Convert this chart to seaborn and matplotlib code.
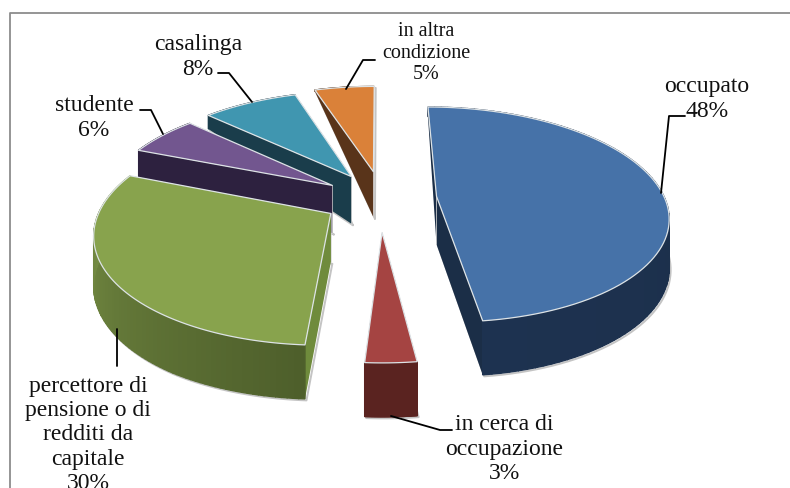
import numpy as np
import matplotlib
matplotlib.use("Agg")
import matplotlib.pyplot as plt
from matplotlib.patches import Polygon
import seaborn as sns

# dati
categories = ["occupato", "in cerca di\noccupazione", "percettore di\npensione o di\nredditi da\ncapitale",
              "studente", "casalinga", "in altra\ncondizione"]
values = [48, 3, 30, 6, 8, 5]

# aspetto delle fette, stesso ordine dei dati
explode = [0.26, 0.08, 0.20, 0.21, 0.19, 0.16]
nudge_x = [1.5, 5.5, -6, -4, -2, 3]
nudge_y = [-3, 23, 1, -4, -8, -13]
top_colors = ["#4672A8", "#A54442", "#88A34D", "#72568F", "#4096B0", "#DA8139"]
wall_colors = ["#1B2E47", "#5A2320", "#6F8B3C", "#2D213F", "#1A3D4B", "#59341A"]
rim_start = ["#1B2D46", "#5A2320", "#4E5F2B", "#2D213F", "#1A3D4B", "#59341A"]
rim_end = ["#1D3250", "#5A2320", "#7D9648", "#2D213F", "#1A3D4B", "#59341A"]
draw_order = [5, 4, 3, 2, 0, 1]

CX, CY, RX, RY, PERSP = 376, 202, 228, 105, 0.17
DEPTH_Y = [88, 115, 150, 175, 320]
DEPTH_PX = [0, 13, 28, 47, 54]


def project(u, v):
    s = 1 / (1 + PERSP * v)
    return CX + RX * u * s, CY - RY * v * s


def with_depth(x, y):
    return x, y + np.interp(y, DEPTH_Y, DEPTH_PX)


sns.set_theme(style="white")
plt.rcParams["font.family"] = ["Liberation Serif", "DejaVu Serif"]

fig = plt.figure(figsize=(7.9, 4.89), dpi=100)
ax = fig.add_axes([0, 0, 1, 1])
ax.set_xlim(0, 790)
ax.set_ylim(489, 0)
ax.axis("off")

# cornice
ax.plot([9.5, 9.5, 790], [489, 13.5, 13.5], color="#8C8C8C", lw=1.3, zorder=1)

ends = np.cumsum(values) / np.sum(values) * 2 * np.pi
starts = np.r_[0, ends[:-1]]

for i in draw_order:
    a0, a1 = starts[i], ends[i]
    mid = (a0 + a1) / 2
    au, av = explode[i] * np.sin(mid), explode[i] * np.cos(mid)
    t = np.linspace(a0, a1, 90)
    rx, ry = project(au + np.sin(t), av + np.cos(t))
    apx, apy = project(au, av)
    rx, ry = rx + nudge_x[i], ry + nudge_y[i]
    apx, apy = apx + nudge_x[i], apy + nudge_y[i]
    bx, by = with_depth(rx, ry)
    abx, aby = with_depth(apx, apy)

    # ombra
    sx = np.r_[abx, bx, abx] + 1.5
    sy = np.r_[aby, by, aby] + 1.5
    ax.plot(sx, sy, color="#C4C4C4", lw=1.4, zorder=2 + draw_order.index(i) * 3, solid_capstyle="round")

    z = 3 + draw_order.index(i) * 3
    # pareti radiali
    for k in (0, -1):
        ax.add_patch(Polygon([(apx, apy), (rx[k], ry[k]), (bx[k], by[k]), (abx, aby)],
                             fc=wall_colors[i], ec="none", zorder=z))
    ax.plot([apx, abx], [apy, aby], color="#D5D5D5", lw=0.5, zorder=z)

    # bordo esterno con sfumatura
    shades = sns.blend_palette([rim_start[i], rim_end[i]], len(t) - 1)
    for k in range(len(t) - 1):
        ax.add_patch(Polygon([(rx[k], ry[k]), (rx[k + 1], ry[k + 1]), (bx[k + 1], by[k + 1]), (bx[k], by[k])],
                             fc=shades[k], ec=shades[k], lw=1.0, zorder=z))

    # faccia superiore
    ax.add_patch(Polygon(np.c_[np.r_[apx, rx], np.r_[apy, ry]], fc=top_colors[i],
                         ec="#DDE3E6", lw=0.9, joinstyle="round", zorder=z + 1))

# linee guida
leaders = [
    ([685, 669, 661], [117, 117, 194]),
    ([391, 440, 452], [417, 431, 431]),
    ([117, 117], [330, 367]),
    ([140, 151, 163], [111, 111, 135]),
    ([218, 229, 252], [74, 74, 103]),
    ([375, 363, 346], [61, 61, 90]),
]
for lx, ly in leaders:
    ax.plot(lx, ly, color="black", lw=1.3, zorder=40)

# etichette
label_pos = [(707, 99), (504, 449), (88, 435), (94, 118), (198, 57), (426, 53)]
label_size = [17, 17, 17, 17, 17, 14.5]
for name, val, (tx, ty), fs in zip(categories, values, label_pos, label_size):
    ax.text(tx, ty, f"{name}\n{val}%", ha="center", va="center", fontsize=fs,
            linespacing=1.2, color="#111111", zorder=41)

fig.savefig("out.png", dpi=100)
